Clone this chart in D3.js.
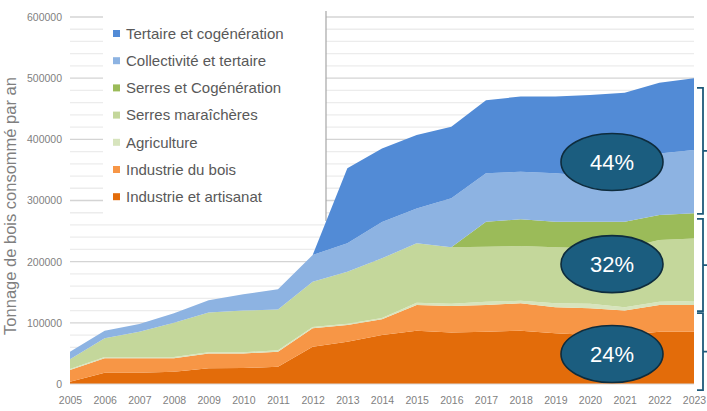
<!DOCTYPE html>
<html lang="fr">
<head>
    <meta charset="UTF-8">
    <title>Tonnage de bois consommé</title>
    <style>
        body {
            margin: 0;
            background: #ffffff;
            font-family: "Liberation Sans", Arial, sans-serif;
        }
        svg {
            display: block;
        }
    </style>
    <script src="https://d3js.org/d3.v7.min.js"></script>
</head>
<body>
<script>
    // years on the x axis
    const years = [2005, 2006, 2007, 2008, 2009, 2010, 2011, 2012, 2013, 2014,
        2015, 2016, 2017, 2018, 2019, 2020, 2021, 2022, 2023]

    // series values (tonnes / year), bottom of the stack first
    const industrieArtisanat = [3800, 18500, 18500, 20000, 25600, 26000, 28300, 61000, 69000, 80000,
        87200, 84000, 85500, 87200, 83000, 80000, 80000, 85500, 85500]
    const industrieBois = [19100, 23500, 23500, 22000, 24400, 24000, 24500, 30000, 27500, 25800,
        41800, 43500, 43500, 44800, 42400, 43800, 40000, 43500, 43500]
    const agriculture = [1600, 2000, 2000, 2000, 2000, 2000, 2200, 2000, 2000, 2200,
        4000, 3500, 5600, 4000, 6600, 7200, 5400, 5600, 6500]
    const serresMaraicheres = [15900, 30700, 41500, 56000, 65000, 68000, 67000, 74000, 85100, 97500,
        97000, 92500, 89900, 89600, 91500, 91000, 96600, 100800, 102500]
    const serresCogeneration = [0, 0, 0, 0, 0, 0, 0, 0, 0, 0,
        0, 0, 40900, 43700, 41900, 43400, 43400, 40900, 41000]
    const collectiviteTertaire = [12400, 12500, 12500, 15600, 20000, 26600, 32800, 44000, 46400, 59500,
        57000, 80100, 79100, 77700, 79100, 74600, 76300, 100700, 103600]
    const tertaireCogeneration = [0, 0, 0, 0, 0, 0, 0, 0, 122700, 120000,
        120000, 117100, 119500, 123000, 125500, 132500, 134300, 115600, 117400]

    const seriesNames = ["Industrie et artisanat", "Industrie du bois", "Agriculture",
        "Serres maraîchères", "Serres et Cogénération", "Collectivité et tertaire", "Tertaire et cogénération"]
    const seriesValues = [industrieArtisanat, industrieBois, agriculture,
        serresMaraicheres, serresCogeneration, collectiviteTertaire, tertaireCogeneration]
    const seriesColors = ["#e36c0a", "#f79646", "#d7e4bd", "#c4d79b", "#9bbb59", "#8db3e2", "#528bd6"]

    const yTicks = [0, 100000, 200000, 300000, 400000, 500000, 600000]

    // share labels on the right
    const shareLabels = ["44%", "32%", "24%"]
    const shareCenters = [363000, 196000, 49000]
    const bracketRanges = [[484000, 278000], [270000, 119000], [116000, -10000]]

    function drawChart(svg) {
        const x = d3.scalePoint().domain(years).range([70, 694])
        const y = d3.scaleLinear().domain([0, 600000]).range([384, 17])

        // rows for d3.stack
        const rows = years.map((yr, i) => {
            let row = {year: yr}
            seriesNames.forEach((name, k) => { row[name] = seriesValues[k][i] })
            return row
        })
        const stacked = d3.stack().keys(seriesNames)(rows)

        // gridlines every 20000, darker at each 100000
        const grid = svg.append("g")
        d3.range(20000, 600001, 20000).forEach(v => {
            grid.append("line")
                .attr("x1", 70).attr("x2", 694)
                .attr("y1", y(v)).attr("y2", y(v))
                .attr("stroke", v % 100000 === 0 ? "#d4d4d4" : "#ececec")
                .attr("stroke-width", 1.3)
        })

        // white legend panel over the grid
        svg.append("rect")
            .attr("x", 103).attr("y", 0)
            .attr("width", 223).attr("height", 221)
            .attr("fill", "#ffffff")
        svg.append("line")
            .attr("x1", 326).attr("x2", 326)
            .attr("y1", 11).attr("y2", 221)
            .attr("stroke", "#a6a6a6").attr("stroke-width", 1.2)

        const area = d3.area()
            .x(d => x(d.data.year))
            .y0(d => y(d[0]))
            .y1(d => y(d[1]))

        svg.append("g")
            .selectAll("path")
            .data(stacked)
            .enter()
            .append("path")
            .attr("d", area)
            .attr("fill", (d, i) => seriesColors[i])

        // baseline
        svg.append("line")
            .attr("x1", 70).attr("x2", 694)
            .attr("y1", y(0)).attr("y2", y(0))
            .attr("stroke", "#d9d9d9")

        // axes
        const yAxis = svg.append("g")
            .attr("transform", "translate(62,0)")
            .call(d3.axisLeft(y).tickValues(yTicks).tickSize(0).tickPadding(0).tickFormat(d3.format("d")))
        yAxis.select(".domain").remove()
        yAxis.selectAll("text")
            .attr("fill", "#7f7f7f")
            .style("font-size", "10.5px")
            .style("font-family", "'Liberation Sans', Arial, sans-serif")

        const xAxis = svg.append("g")
            .attr("transform", "translate(0,397)")
            .call(d3.axisBottom(x).tickSize(0).tickPadding(0))
        xAxis.select(".domain").remove()
        xAxis.selectAll("text")
            .attr("fill", "#7f7f7f")
            .style("font-size", "10.5px")
            .style("font-family", "'Liberation Sans Narrow', 'Liberation Sans', Arial, sans-serif")

        svg.append("text")
            .attr("transform", "translate(16,206) rotate(-90)")
            .attr("text-anchor", "middle")
            .attr("fill", "#7f7f7f")
            .style("font-size", "16.5px")
            .text("Tonnage de bois consommé par an")

        // legend, top entry is the last series
        const legend = svg.append("g")
        seriesNames.slice().reverse().forEach((name, i) => {
            const k = seriesNames.length - 1 - i
            const cy = 33.5 + i * 27.2
            legend.append("rect")
                .attr("x", 113).attr("y", cy - 3.5)
                .attr("width", 7).attr("height", 7)
                .attr("fill", seriesColors[k])
            legend.append("text")
                .attr("x", 126).attr("y", cy)
                .attr("dy", "0.35em")
                .attr("fill", "#595959")
                .style("font-size", "15px")
                .text(name)
        })

        // brackets on the right side
        const brackets = svg.append("g")
            .attr("fill", "none")
            .attr("stroke", "#1f5a7a")
            .attr("stroke-width", 1.8)
        bracketRanges.forEach(r => {
            const y1 = y(r[0]), y2 = y(r[1]), ym = (y1 + y2) / 2
            brackets.append("path")
                .attr("d", `M697,${y1}H703V${y2}H697M703,${ym}H708`)
        })

        // share ellipses
        shareLabels.forEach((lab, i) => {
            const cy = y(shareCenters[i])
            svg.append("ellipse")
                .attr("cx", 612).attr("cy", cy)
                .attr("rx", 51).attr("ry", 28.5)
                .attr("fill", "#1b5d7f")
                .attr("stroke", "#0e2c3d")
                .attr("stroke-width", 1.6)
            svg.append("text")
                .attr("x", 612).attr("y", cy)
                .attr("dy", "0.36em")
                .attr("text-anchor", "middle")
                .attr("fill", "#ffffff")
                .style("font-size", "22px")
                .text(lab)
        })
    }

    const svg = d3.select("body").append("svg")
        .attr("width", 707)
        .attr("height", 411)
    drawChart(svg)
</script>
</body>
</html>
